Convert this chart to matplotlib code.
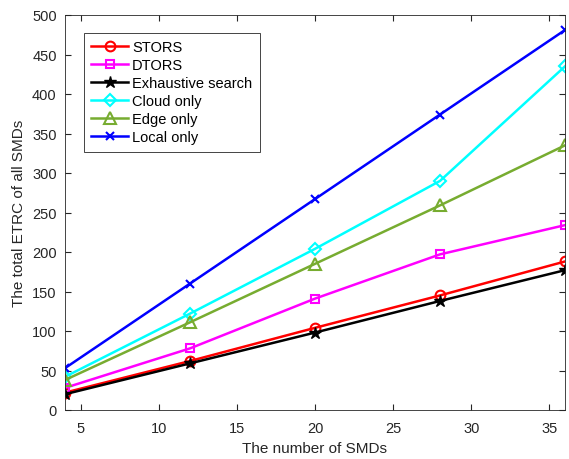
import numpy as np
import matplotlib.pyplot as plt

plt.rcParams['font.family'] = ['Liberation Sans', 'DejaVu Sans']

smds = [4, 12, 20, 28, 36]
stors = [22, 62, 104, 145, 188]
dtors = [28, 78, 141, 197, 234]
exhaustive = [20, 59, 98, 138, 177]
cloud = [42, 122, 204, 290, 435]
edge = [38, 111, 185, 259, 335]
local = [53, 160, 267, 374, 481]

fig = plt.figure(figsize=(5.69, 4.60), dpi=100)
ax = fig.add_axes([65/569, 1-411/460, 500/569, 395/460])

lw = 1.8
ax.plot(smds, stors, '-o', color='red', lw=lw, ms=7, mfc='none', mew=1.5, label='STORS')
ax.plot(smds, dtors, '-s', color='magenta', lw=lw, ms=6, mfc='none', mew=1.5, label='DTORS')
ax.plot(smds, exhaustive, '-*', color='black', lw=lw, ms=9, label='Exhaustive search')
ax.plot(smds, cloud, '-D', color='cyan', lw=lw, ms=6, mfc='none', mew=1.5, label='Cloud only')
ax.plot(smds, edge, '-^', color='#77AC30', lw=lw, ms=8, mfc='none', mew=1.5, label='Edge only')
ax.plot(smds, local, '-x', color='blue', lw=lw, ms=6, mew=1.5, label='Local only')

ax.set_xlim(4, 36)
ax.set_ylim(0, 500)
ax.set_xticks([5, 10, 15, 20, 25, 30, 35])
ax.set_yticks(np.arange(0, 501, 50))
ax.tick_params(direction='in', top=True, right=True, labelsize=10.5, colors='#262626', length=4)
ax.tick_params(axis='x', pad=8)
ax.tick_params(axis='y', pad=6)
for s in ax.spines.values():
    s.set_color('#262626')
    s.set_linewidth(0.6)

ax.set_xlabel('The number of SMDs', fontsize=11, color='#262626', labelpad=4)
ax.set_ylabel('The total ETRC of all SMDs', fontsize=11, color='#262626', labelpad=4)

leg = ax.legend(loc='upper left', bbox_to_anchor=(0.038, 0.955), borderaxespad=0,
                fontsize=10.5, fancybox=False, edgecolor='#262626', framealpha=1,
                handlelength=2.5, borderpad=0.5, labelspacing=0.28, handletextpad=0.3)
leg.get_frame().set_linewidth(0.6)

plt.savefig('out.png', dpi=100)
